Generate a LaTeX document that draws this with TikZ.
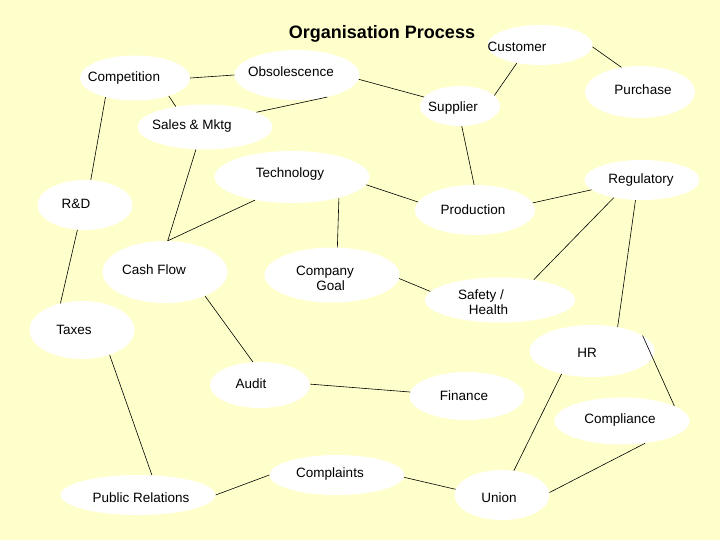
\documentclass[tikz,border=0pt]{standalone}
\usepackage{fontspec}
\setmainfont{Liberation Sans}
\usetikzlibrary{shapes.geometric}
\begin{document}
\begin{tikzpicture}[x=1pt,y=-1pt,
  el/.style={ellipse,fill=white,draw=none,inner sep=0pt},
  tx/.style={font=\fontsize{13.5}{15}\selectfont,align=center,inner sep=0pt},
  ln/.style={draw=black,line width=0.6pt}]
\fill[fill={rgb,255:red,255;green,255;blue,204}] (0,0) rectangle (720,540);
\useasboundingbox (0,0) rectangle (720,540);
\node[font=\fontsize{18}{20}\selectfont\bfseries] (title) at (382,34) {Organisation Process};
\node[el,minimum width=105,minimum height=40] (cus) at (540,45) {};
\node[el,minimum width=125,minimum height=50] (obs) at (297,75) {};
\node[el,minimum width=110,minimum height=45] (com) at (135,78) {};
\node[el,minimum width=110,minimum height=52] (pur) at (640,92) {};
\node[el,minimum width=80,minimum height=40] (sup) at (460,106) {};
\node[el,minimum width=135,minimum height=45] (sal) at (205,127) {};
\node[el,minimum width=155,minimum height=52] (tec) at (292,177) {};
\node[el,minimum width=115,minimum height=40] (reg) at (642,180) {};
\node[el,minimum width=95,minimum height=50] (rd) at (85,205) {};
\node[el,minimum width=120,minimum height=50] (pro) at (475,210) {};
\node[el,minimum width=125,minimum height=62] (cas) at (165,272) {};
\node[el,minimum width=135,minimum height=55] (cg) at (332,275) {};
\node[el,minimum width=150,minimum height=45] (saf) at (500,300) {};
\node[el,minimum width=105,minimum height=58] (tax) at (82,330) {};
\node[el,minimum width=125,minimum height=52] (hr) at (592,351) {};
\node[el,minimum width=100,minimum height=46] (aud) at (260,385) {};
\node[el,minimum width=115,minimum height=48] (fin) at (467,396) {};
\node[el,minimum width=135,minimum height=47] (cpl) at (622,421) {};
\node[el,minimum width=135,minimum height=40] (cmp) at (337,475) {};
\node[el,minimum width=155,minimum height=40] (pr) at (138,495) {};
\node[el,minimum width=95,minimum height=50] (uni) at (502,495) {};
\node[tx] (tcus) at (517,47) {Customer};
\node[tx] (tobs) at (291,72) {Obsolescence};
\node[tx] (tcom) at (124,78) {Competition};
\node[tx] (tpur) at (643,90) {Purchase};
\node[tx] (tsup) at (453,108) {Supplier};
\node[tx] (tsal) at (192,126) {Sales \& Mktg};
\node[tx] (ttec) at (290,174) {Technology};
\node[tx] (treg) at (641,180) {Regulatory};
\node[tx] (trd) at (76,204) {R\&D};
\node[tx] (tpro) at (473,210) {Production};
\node[tx] (tcas) at (154,270) {Cash Flow};
\node[tx] (tcg) at (325,278) {Company\\\ \ \ Goal};
\node[tx] (tsaf) at (481,302) {Safety /\\\ \ \ \ Health};
\node[tx] (ttax) at (74,330) {Taxes};
\node[tx] (thr) at (587,353) {HR};
\node[tx] (taud) at (251,384) {Audit};
\node[tx] (tfin) at (464,396) {Finance};
\node[tx] (tcpl) at (620,420) {Compliance};
\node[tx] (tcmp) at (330,474) {Complaints};
\node[tx] (tpr) at (141,498) {Public Relations};
\node[tx] (tuni) at (499,498) {Union};
\draw[ln] (com.0) -- (obs.180);
\draw[ln] (com.-28) -- (sal.145);
\draw[ln] (obs.-36) -- (sal.16);
\draw[ln] (obs.-4) -- (sup.166);
\draw[ln] (cus.-142) -- (sup.17);
\draw[ln] (cus.-2) -- (pur.127);
\draw[ln] (com.-147) -- (rd.77);
\draw[ln] (sal.-112) -- (cas.85);
\draw[ln] (cas.85) -- (tec.-148);
\draw[ln] (sup.-85) -- (pro.92);
\draw[ln] (tec.-6) -- (pro.172);
\draw[ln] (tec.-24) -- (cg.79);
\draw[ln] (pro.7) -- (reg.-169);
\draw[ln] (reg.-148) -- (saf.31);
\draw[ln] (reg.-108) -- (hr.43);
\draw[ln] (cg.-3) -- (saf.173);
\draw[ln] (rd.-107) -- (tax.129);
\draw[ln] (cas.-31) -- (aud.107);
\draw[ln] (tax.-42) -- (pr.55);
\draw[ln] (aud.1) -- (fin.176);
\draw[ln] (hr.17) -- (cpl.16);
\draw[ln] (hr.-143) -- (uni.64);
\draw[ln] (cpl.-44) -- (uni.3);
\draw[ln] (pr.0) -- (cmp.180);
\draw[ln] (cmp.-2) -- (uni.173);
\end{tikzpicture}
\end{document}
